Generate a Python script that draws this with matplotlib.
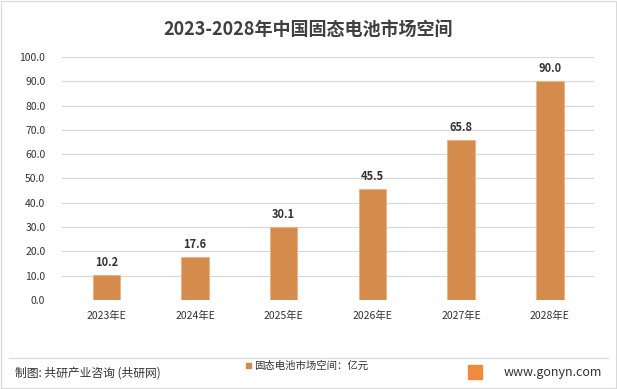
import matplotlib
matplotlib.use('Agg')
import matplotlib.pyplot as plt
from matplotlib.patches import Rectangle
from matplotlib.lines import Line2D

plt.rcParams['font.family'] = ['Noto Sans CJK SC', 'DejaVu Sans']

years = ['2023年E', '2024年E', '2025年E', '2026年E', '2027年E', '2028年E']
values = [10.2, 17.6, 30.1, 45.5, 65.8, 90.0]
series_name = '固态电池市场空间：亿元'

fig = plt.figure(figsize=(6.17, 3.89), dpi=100)
ax = fig.add_axes([0.1005, 0.2288, 0.8625, 0.6247])

bars = ax.bar(range(len(years)), values, width=0.31, color='#D48B4B',
              edgecolor='#E8B68A', linewidth=0.8, zorder=3)
for i, v in enumerate(values):
    ax.text(i, v + 2.5, '{:.1f}'.format(v), ha='center', va='bottom',
            fontsize=8, fontweight='bold', color='#333333')

ax.set_xlim(-0.5, len(years) - 0.5)
ax.set_ylim(0, 100)
ax.set_yticks(range(0, 101, 10))
ax.set_yticklabels(['{:.1f}'.format(t) for t in range(0, 101, 10)],
                   fontsize=7.5, color='#333333')
ax.set_xticks(range(len(years)))
ax.set_xticklabels(years, fontsize=7.5, color='#333333')
ax.tick_params(axis='both', length=0)
ax.tick_params(axis='x', pad=8)
ax.tick_params(axis='y', pad=12)
ax.grid(axis='y', color='#D9D9D9', linewidth=0.8, zorder=0)
for s in ax.spines.values():
    s.set_visible(False)

fig.text(0.5, 0.923, '2023-2028年中国固态电池市场空间', ha='center', va='center',
         fontsize=13, fontweight='bold', color='#404040')

# footer
fig.add_artist(Line2D([0.015, 0.985], [0.08, 0.08], color='#D9D9D9', lw=0.8))
fig.text(0.025, 0.04, '制图: 共研产业咨询 (共研网)', ha='left', va='center',
         fontsize=8.5, color='#333333')
fig.text(0.975, 0.042, 'www.gonyn.com', ha='right', va='center',
         fontsize=9, color='#333333')
fig.add_artist(Rectangle((0.759, 0.026), 0.022, 0.035, color='#F08A3C',
                         transform=fig.transFigure))
fig.add_artist(Rectangle((0.3985, 0.053), 0.009, 0.014, color='#D48B4B',
                         transform=fig.transFigure))
fig.text(0.411, 0.06, series_name, ha='left', va='center',
         fontsize=7.5, color='#333333')

# frame
fig.add_artist(Rectangle((0.002, 0.003), 0.996, 0.994, fill=False,
                         edgecolor='#D9D9D9', lw=0.8, transform=fig.transFigure))

fig.savefig('out.png', dpi=100)
